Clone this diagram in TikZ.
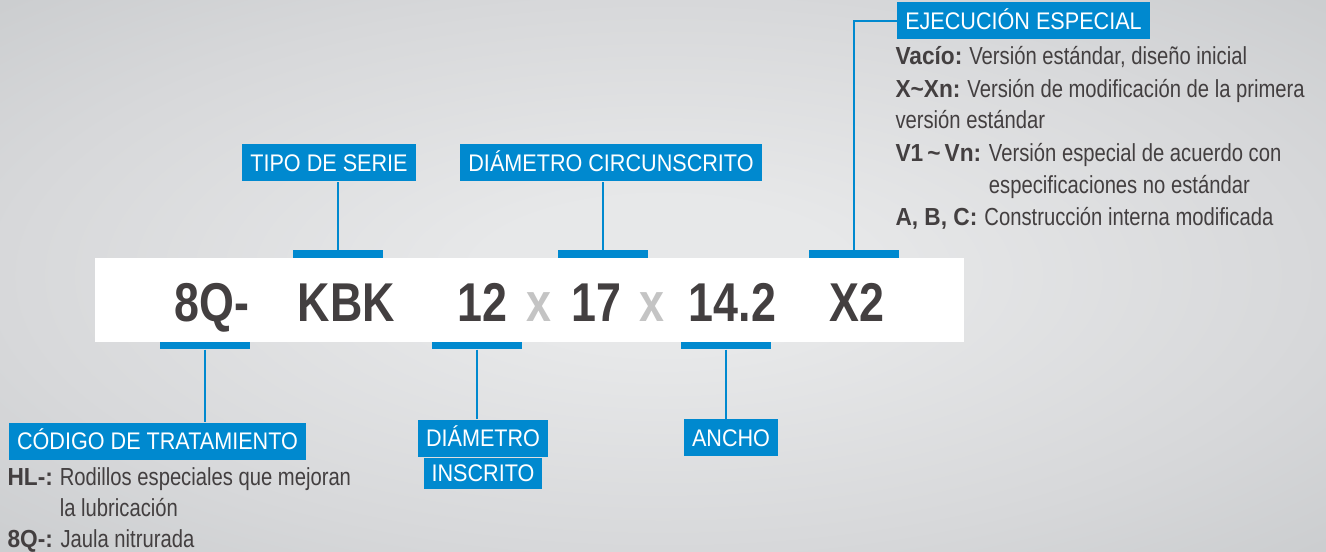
\documentclass[tikz,border=0pt]{standalone}
\usepackage{fontspec}
\setmainfont{Liberation Sans}
\newfontfamily\descfont{Liberation Sans}[FakeStretch=0.82]
\newfontfamily\keyfont{Liberation Sans}[FakeStretch=0.92]
\newfontfamily\tagfont{Liberation Sans}[FakeStretch=0.9]
\newfontfamily\codefont{Liberation Sans}[FakeStretch=0.82]

\definecolor{codeblue}{RGB}{0,137,207}
\definecolor{codetext}{RGB}{67,63,64}
\definecolor{codegray}{RGB}{196,196,196}
\definecolor{bgin}{RGB}{231,232,233}
\definecolor{bgmid}{RGB}{215,216,218}
\definecolor{bgout}{RGB}{203,205,207}
\pgfdeclareradialshading{bgglow}{\pgfpoint{0bp}{0bp}}{color(0bp)=(bgin); color(7bp)=(bgin); color(25bp)=(bgmid); color(36bp)=(bgout)}

\tikzset{every picture/.style={line width=0.75pt}}
\tikzset{
  labelbox/.style={fill=codeblue, text=white, font=\tagfont\fontsize{18}{21}\selectfont, inner xsep=6pt, inner ysep=0pt, minimum height=27.75pt, text height=12.9pt, text depth=0pt},
  markbar/.style={fill=codeblue, inner sep=0pt, minimum width=67.5pt, minimum height=5.6pt},
  leader/.style={draw=codeblue, line width=1.5pt},
  codepart/.style={font=\codefont\bfseries\fontsize{41}{41}\selectfont, text=codetext, anchor=base, inner sep=0pt},
  codex/.style={codepart, text=codegray},
  notekey/.style={anchor=base west, inner sep=0pt, font=\keyfont\bfseries\fontsize{18.5}{22}\selectfont, text=codetext},
  notetext/.style={anchor=base west, inner sep=0pt, font=\descfont\fontsize{18.5}{22}\selectfont, text=codetext},
}

\begin{document}
\begin{tikzpicture}[x=0.75pt,y=0.75pt,yscale=-1,xscale=1]
	%Shape: Background
	\shade[shading=bgglow] (0,0) rectangle (1326,551);
	\useasboundingbox (0,0) rectangle (1326,551);
	%Shape: Rectangle (white band)
	\fill[white] (95,258) rectangle (964,342);

	% Code parts
	\node[codepart] (pre) at (212,321) {8Q-};
	\node[codepart] (serie) at (346.5,321) {KBK};
	\node[codepart] (din) at (482.5,321) {12};
	\node[codex] (xa) at (539,321) {x};
	\node[codepart] (dout) at (596,321) {17};
	\node[codex] (xb) at (652,321) {x};
	\node[codepart] (ancho) at (732.5,321) {14.2};
	\node[codepart] (suf) at (857,321) {X2};

	% Bars
	\node[markbar] (tipobar) at (338,254) {};
	\node[markbar] (circbar) at (603,254) {};
	\node[markbar] (ejecbar) at (854,254) {};
	\node[markbar] (codbar) at (205,345.5) {};
	\node[markbar] (diambar) at (477,345.5) {};
	\node[markbar] (anchobar) at (726,345.5) {};

	% Label boxes
	\node[labelbox] (tipo) at (329,162.5) {TIPO DE SERIE};
	\node[labelbox] (circ) at (611,162.5) {DIÁMETRO CIRCUNSCRITO};
	\node[labelbox] (ejec) at (1023.5,20.5) {EJECUCIÓN ESPECIAL};
	\node[labelbox] (cod) at (157.5,441) {CÓDIGO DE TRATAMIENTO};
	\node[labelbox] (diam1) at (483,438) {DIÁMETRO};
	\node[labelbox, anchor=north, minimum height=23.25pt] (diam2) at (diam1.south) {INSCRITO};
	\node[labelbox] (anch) at (731,437.5) {ANCHO};

	% Leaders
	\draw[leader] (tipobar.north) -- (tipobar.north |- tipo.south);
	\draw[leader] (circbar.north) -- (circbar.north |- circ.south);
	\draw[leader] (ejec.west) -| (ejecbar.north);
	\draw[leader] (codbar.south) -- (codbar.south |- cod.north);
	\draw[leader] (diambar.south) -- (diambar.south |- diam1.north);
	\draw[leader] (anchobar.south) -- (anchobar.south |- anch.north);

	% Text Node (ejecucion especial)
	\node[notekey] (k1) at (895,64) {Vacío:};
	\node[notetext] (t1) at ([xshift=4.5pt]k1.base east) {Versión estándar, diseño inicial};
	\node[notekey] (k2) at (895,97) {X\textasciitilde Xn:};
	\node[notetext] (t2) at ([xshift=4.5pt]k2.base east) {Versión de modificación de la primera};
	\node[notetext] (t2b) at (895,128) {versión estándar};
	\node[notekey] (k3) at (895,161) {V1\,\textasciitilde\,Vn:};
	\node[notetext] (t3) at ([xshift=5pt]k3.base east) {Versión especial de acuerdo con};
	\node[notetext] (t3b) at ([yshift=24pt]t3.base west) {especificaciones no estándar};
	\node[notekey] (k4) at (895,225) {A, B, C:};
	\node[notetext] (t4) at ([xshift=4.5pt]k4.base east) {Construcción interna modificada};

	% Text Node (codigo de tratamiento)
	\node[notekey] (k5) at (7,485) {HL-:};
	\node[notetext] (t5) at ([xshift=4.5pt]k5.base east) {Rodillos especiales que mejoran};
	\node[notetext] (t5b) at ([yshift=23.25pt]t5.base west) {la lubricación};
	\node[notekey] (k6) at (7,547) {8Q-:};
	\node[notetext] (t6) at ([xshift=5pt]k6.base east) {Jaula nitrurada};
\end{tikzpicture}
\end{document}
